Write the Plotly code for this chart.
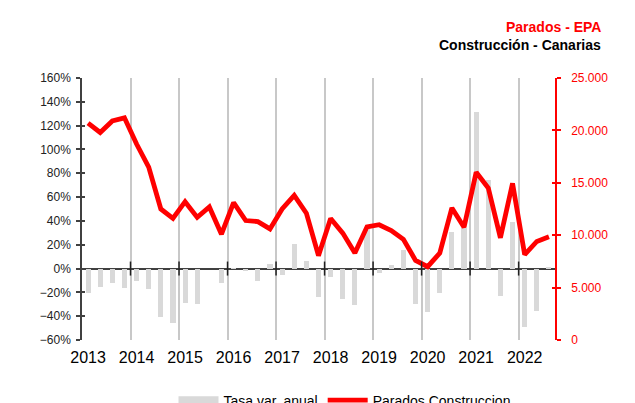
import plotly.graph_objects as go

years = [2013, 2014, 2015, 2016, 2017, 2018, 2019, 2020, 2021, 2022]
quarters_per_year = 4

# Tasa de variación anual (%) - trimestral, 2013T1 .. 2022T3
tasa_var = [-20.7, -15.4, -11.8, -16.0,
            -10.4, -16.8, -40.4, -45.4,
            -28.6, -29.5, 0.0, -12.3,
            0.3, -2.0, -10.1, 4.0,
            -5.0, 20.8, 6.2, -23.6,
            -6.7, -25.8, -30.6, 35.0,
            -3.9, 2.8, 15.5, -29.5,
            -36.7, -20.7, 31.1, 34.0,
            131.6, 74.7, -22.7, 39.5,
            -49.4, -35.4, 0.5]

# Parados construcción (personas)
parados = [20700, 19800, 20900, 21200,
           18700, 16500, 12500, 11600,
           13200, 11700, 12700, 10100,
           13100, 11400, 11300, 10600,
           12500, 13800, 12100, 8050,
           11600, 10200, 8300, 10800,
           11000, 10450, 9600, 7600,
           7000, 8300, 12600, 10750,
           16000, 14500, 9750, 14950,
           8150, 9400, 9850]

n = len(parados)
xs = list(range(n))
year_ticks = [i * quarters_per_year for i in range(len(years))]
year_bounds = [i * quarters_per_year - 0.5 for i in range(1, len(years))]

FONT = "Liberation Sans, Arial, sans-serif"
DARK = "#404040"
BAR_COLOR = "#d9d9d9"

fig = go.Figure()
fig.add_trace(go.Bar(
    x=xs, y=tasa_var, name="Tasa var. anual", showlegend=False,
    legendgroup="tasa",
    marker=dict(color=BAR_COLOR, line=dict(width=0)),
    width=0.42, yaxis="y", xaxis="x", hoverinfo="skip"))
# legend swatch for the bars (wide grey box, as in the original)
fig.add_trace(go.Scatter(
    x=[None], y=[None], name="Tasa var. anual", legendgroup="tasa",
    mode="lines", line=dict(color=BAR_COLOR, width=8),
    yaxis="y", xaxis="x", hoverinfo="skip"))
fig.add_trace(go.Scatter(
    x=xs, y=parados, name="Parados Construccion",
    mode="lines", line=dict(color="#ff0000", width=4.8),
    yaxis="y2", xaxis="x", hoverinfo="skip"))
# tick marks on the zero line at year boundaries
fig.add_trace(go.Scatter(
    x=year_bounds, y=[0] * len(year_bounds), mode="markers",
    marker=dict(symbol="line-ns", size=10, line=dict(width=1.5, color="#202020")),
    xaxis="x2", yaxis="y", showlegend=False, hoverinfo="skip"))
# placeholders so the inner-tick axes are drawn
fig.add_trace(go.Scatter(x=[None], y=[None], xaxis="x", yaxis="y3",
                         showlegend=False, hoverinfo="skip"))
fig.add_trace(go.Scatter(x=[None], y=[None], xaxis="x", yaxis="y4",
                         showlegend=False, hoverinfo="skip"))

W, H = 627, 395  # page body adds an 8px offset

fig.update_layout(
    width=W, height=H,
    margin=dict(l=74, r=80, t=70, b=63, autoexpand=False),
    paper_bgcolor="white", plot_bgcolor="white",
    separators=",.",
    font=dict(family=FONT, color="#000000"),
    bargap=0,
    xaxis=dict(range=[-0.5, n - 0.5], tickvals=year_ticks,
               ticktext=[str(y) for y in years], ticks="", showgrid=False,
               showline=False, zeroline=False, ticklabelstandoff=6,
               tickfont=dict(size=16, color="#000000", family=FONT)),
    xaxis2=dict(range=[-0.5, n - 0.5], overlaying="x", anchor="y",
                tickvals=year_bounds, showgrid=True, gridcolor="#c8c8c8",
                gridwidth=2, showticklabels=False, ticks="", showline=False,
                zeroline=False),
    yaxis=dict(range=[-60, 160], dtick=20, ticksuffix="%", ticks="outside",
               ticklen=4, tickcolor=DARK, tickwidth=1.5, showline=True,
               linecolor=DARK, linewidth=1.5, showgrid=False, zeroline=True,
               zerolinecolor=DARK, zerolinewidth=1.5, ticklabelstandoff=3,
               layer="above traces",
               tickfont=dict(size=12, color="#222222", family=FONT)),
    yaxis2=dict(range=[0, 25000], dtick=5000, tickformat=",d", overlaying="y",
                side="right", anchor="x", ticks="outside", ticklen=4,
                tickcolor="#ff0000", tickwidth=1.5, showline=True,
                linecolor="#ff0000", linewidth=1.5, showgrid=False,
                zeroline=False, ticklabelstandoff=8,
                tickfont=dict(size=12, color="#ff0000", family=FONT)),
    yaxis3=dict(range=[-60, 160], dtick=20, overlaying="y", side="left",
                anchor="x", ticks="inside", ticklen=3, tickwidth=1.5,
                tickcolor=DARK, showticklabels=False, showline=False,
                showgrid=False, zeroline=False),
    yaxis4=dict(range=[0, 25000], dtick=5000, overlaying="y", side="right",
                anchor="x", ticks="inside", ticklen=3, tickwidth=1.5,
                tickcolor="#ff0000", showticklabels=False, showline=False,
                showgrid=False, zeroline=False),
    legend=dict(orientation="h", x=0.555, xanchor="center", y=-0.17,
                yanchor="top", font=dict(size=14, color="#000000", family=FONT),
                traceorder="normal", itemwidth=40),
    annotations=[
        dict(text="<b>Parados - EPA</b>", xref="paper", yref="paper",
             x=1.1015, y=1.195, xanchor="right", yanchor="middle",
             showarrow=False, font=dict(size=14, color="#ff0000", family=FONT)),
        dict(text="<b>Construcción - Canarias</b>", xref="paper", yref="paper",
             x=1.1015, y=1.126, xanchor="right", yanchor="middle",
             showarrow=False, font=dict(size=14, color="#000000", family=FONT)),
    ],
)

fig.write_html("out.html")
